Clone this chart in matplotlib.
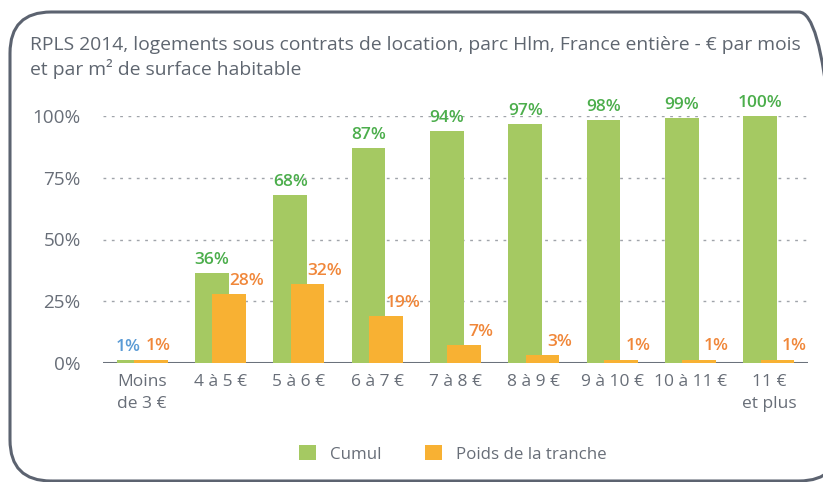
import matplotlib
matplotlib.use("Agg")
import matplotlib.pyplot as plt
import numpy as np
from matplotlib.patches import FancyBboxPatch, Patch

plt.rcParams['font.family'] = ['Open Sans', 'DejaVu Sans']

categories = ["Moins\nde 3 €", "4 à 5 €", "5 à 6 €", "6 à 7 €", "7 à 8 €",
              "8 à 9 €", "9 à 10 €", "10 à 11 €", "11 €\net plus"]
cumul = [1.4, 36.4, 68.2, 87.2, 93.8, 96.9, 98.3, 99.2, 100]
poids = [1.4, 27.8, 31.8, 19.0, 7.2, 3.2, 1.4, 1.4, 1.4]
yticks = [0, 25, 50, 75, 100]
title = ("RPLS 2014, logements sous contrats de location, parc Hlm, France entière - € par mois\n"
         "et par m² de surface habitable")
legend_labels = ["Cumul", "Poids de la tranche"]

GREEN = "#a5c962"
ORANGE = "#f8b133"
GREEN_TXT = "#4cae4c"
ORANGE_TXT = "#f0873a"
BLUE_TXT = "#5b9bd5"
GRAY_TXT = "#686e78"
BORDER = "#5c6370"

W, H = 823, 482
fig = plt.figure(figsize=(W / 100, H / 100), dpi=100)

# rounded frame
box = FancyBboxPatch((10 / W, 1 - 481 / H), (840 - 10) / W, (481 - 12) / H,
                     boxstyle="round,pad=0,rounding_size=0.05",
                     transform=fig.transFigure, fill=False,
                     edgecolor=BORDER, linewidth=2.2, mutation_aspect=W / H)
fig.patches.append(box)

fig.text(30 / W, 1 - 36 / H, title, ha="left", va="top", fontsize=13.9,
         color="#5f6670", linespacing=1.3)

ax = fig.add_axes([103 / W, 1 - 363 / H, (808 - 103) / W, (363 - 116) / H])
x = np.arange(len(categories))
w = 0.43
off = 0.11
ax.bar(x - off, cumul, width=w, color=GREEN, zorder=5)
ax.bar(x + off, poids, width=w, color=ORANGE, zorder=6)

ax.set_xlim(-0.5, len(categories) - 0.5)
ax.set_ylim(0, 100)
ax.set_yticks(yticks)
ax.set_yticklabels([f"{v}%" for v in yticks])
ax.set_xticks(x)
ax.set_xticklabels(categories, linespacing=1.45)
ax.tick_params(axis="y", length=0, pad=16, labelsize=13.6, colors=GRAY_TXT)
ax.tick_params(axis="x", length=0, pad=8, labelsize=12.5, colors=GRAY_TXT)
for s in ax.spines.values():
    s.set_visible(False)
for v in yticks[1:]:
    ax.axhline(v, color="#a0a4aa", linestyle=(0, (2, 4)), linewidth=1, zorder=1)
ax.axhline(0, color="#6b727c", linewidth=2.2, zorder=4)

for i, (c, p) in enumerate(zip(cumul, poids)):
    col = BLUE_TXT if i == 0 else GREEN_TXT
    gdx = -0.07 if i == 0 else 0.0
    ax.annotate(f"{c:.0f}%", (x[i] - off + gdx, c), xytext=(0, 3.5), textcoords="offset points",
                ha="center", va="bottom", fontsize=12.5, fontweight="semibold", color=col)
    dx = 0.09 if i == 0 else 0.22
    ax.annotate(f"{p:.0f}%", (x[i] + off + dx, p), xytext=(0, 9.5),
                textcoords="offset points",
                ha="center", va="center", fontsize=12.5, fontweight="semibold", color=ORANGE_TXT)

handles = [Patch(facecolor=GREEN, edgecolor="none"), Patch(facecolor=ORANGE, edgecolor="none")]
fig.legend(handles, legend_labels, loc="center", bbox_to_anchor=(453 / W, 1 - 454 / H),
           ncol=2, frameon=False, fontsize=12.2, labelcolor=GRAY_TXT,
           handlelength=1.0, handleheight=1.0, handletextpad=0.8, columnspacing=2.6)

fig.savefig("out.png", dpi=100)
